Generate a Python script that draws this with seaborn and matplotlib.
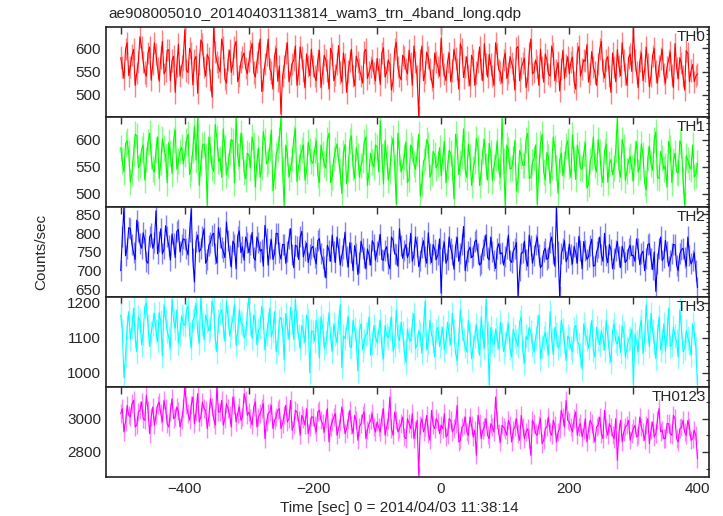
import numpy as np
import pandas as pd
import matplotlib
matplotlib.use("Agg")
import matplotlib.pyplot as plt
from matplotlib.ticker import MultipleLocator
import seaborn as sns

# light curve values:
# *_a lists sit at -500, -495, ..., 400 s; *_b lists sit halfway in between
t_start, t_stop, t_step = -500, 400, 5

th0_a = [
    580, 535, 612, 560, 598, 547, 625, 571, 540, 603, 566, 588, 529, 615, 552, 597, 574, 505, 609, 561,
    640, 548, 590, 575, 503, 618, 560, 587, 532, 645, 571, 549, 602, 525, 596, 566, 615, 540, 582, 557,
    572, 611, 538, 590, 507, 566, 620, 548, 583, 529, 458, 561, 612, 545, 575, 520, 603, 552, 588, 541,
    562, 530, 596, 548, 575, 512, 588, 543, 606, 527, 565, 550, 598, 519, 571, 540, 592, 535, 560, 547,
    578, 522, 601, 549, 566, 530, 613, 541, 585, 555, 596, 520, 570, 452, 605, 548, 580, 532, 590, 560,
    622, 545, 571, 528, 598, 556, 610, 537, 582, 519, 575, 548, 603, 530, 566, 587, 541, 612, 553, 525,
    590, 547, 568, 510, 604, 558, 579, 532, 620, 549, 561, 598, 527, 575, 540, 589, 552, 508, 596, 563,
    545, 581, 512, 604, 556, 572, 527, 593, 548, 566, 615, 536, 582, 505, 560, 597, 541, 575, 520, 588,
    644, 548, 572, 530, 603, 517, 584, 550, 562, 598, 525, 575, 543, 610, 535, 568, 510, 589, 552, 528,
    545,
]
th0_b = [
    560, 598, 541, 585, 520, 570, 602, 548, 590, 531, 612, 557, 580, 545, 596, 530, 583, 562, 540, 575,
    552, 600, 521, 583, 566, 610, 540, 578, 495, 592, 560, 620, 534, 575, 548, 603, 528, 570, 590, 545,
    595, 548, 570, 620, 533, 585, 556, 512, 600, 562, 540, 590, 528, 567, 605, 546, 580, 515, 562, 598,
    540, 575, 515, 585, 552, 600, 530, 566, 548, 590, 505, 572, 541, 583, 556, 525, 598, 548, 575, 530,
    555, 590, 538, 575, 510, 598, 560, 532, 580, 545, 568, 605, 540, 575, 530, 592, 555, 515, 571, 540,
    565, 530, 590, 552, 578, 512, 598, 560, 542, 585, 520, 570, 555, 610, 538, 565, 520, 588, 548, 575,
    535, 582, 555, 600, 530, 568, 515, 590, 545, 575, 520, 560, 588, 545, 605, 530, 570, 555, 535, 582,
    570, 528, 590, 540, 575, 608, 545, 560, 520, 598, 552, 575, 540, 590, 528, 562, 612, 545, 580, 550,
    575, 515, 590, 552, 565, 540, 600, 525, 578, 545, 560, 592, 515, 558, 580, 540, 595, 528, 565, 540,
]
th1_a = [
    585, 540, 598, 521, 575, 607, 552, 590, 563, 612, 546, 580, 528, 601, 569, 595, 537, 618, 560, 586,
    574, 610, 548, 625, 640, 556, 592, 478, 583, 541, 603, 565, 620, 535, 577, 598, 640, 550, 588, 527,
    571, 605, 512, 584, 549, 597, 560, 618, 533, 582, 640, 478, 575, 546, 601, 522, 568, 590, 541, 579,
    556, 598, 520, 573, 547, 612, 531, 580, 562, 500, 591, 545, 607, 528, 570, 552, 596, 515, 575, 549,
    587, 635, 518, 568, 542, 603, 480, 575, 551, 596, 527, 583, 545, 610, 519, 566, 590, 538, 572, 555,
    533, 597, 549, 575, 490, 588, 556, 620, 530, 568, 545, 602, 515, 579, 551, 593, 524, 566, 542, 640,
    478, 581, 547, 598, 525, 570, 553, 612, 530, 565, 480, 592, 540, 576, 519, 605, 548, 562, 533, 588,
    551, 609, 526, 573, 545, 594, 517, 568, 552, 600, 536, 579, 521, 563, 547, 640, 530, 587, 541, 569,
    523, 596, 549, 572, 507, 588, 543, 614, 528, 566, 551, 597, 520, 575, 538, 590, 478, 562, 545, 531,
    556,
]
th1_b = [
    560, 592, 575, 538, 610, 548, 582, 525, 595, 570, 540, 605, 558, 585, 520, 575, 600, 545, 578, 555,
    598, 535, 580, 562, 515, 590, 570, 605, 548, 628, 560, 530, 585, 552, 600, 520, 570, 612, 540, 575,
    548, 590, 560, 530, 615, 555, 585, 505, 572, 600, 545, 590, 530, 565, 620, 550, 580, 525, 595, 560,
    580, 535, 590, 555, 600, 520, 565, 592, 540, 575, 518, 598, 550, 585, 530, 562, 605, 540, 558, 590,
    540, 570, 598, 525, 585, 550, 612, 540, 568, 520, 590, 555, 575, 495, 560, 600, 530, 578, 548, 585,
    565, 520, 580, 548, 610, 535, 570, 545, 592, 515, 560, 585, 540, 600, 525, 575, 550, 598, 530, 560,
    590, 545, 565, 505, 580, 552, 600, 528, 558, 590, 545, 610, 525, 568, 550, 585, 500, 575, 555, 598,
    530, 565, 590, 548, 575, 510, 560, 605, 540, 578, 520, 592, 555, 535, 582, 545, 600, 525, 562, 548,
    575, 540, 592, 520, 565, 555, 600, 530, 578, 545, 512, 585, 560, 540, 598, 525, 570, 550, 590, 535,
]
th2_a = [
    700, 869, 760, 812, 748, 835, 772, 801, 725, 790, 760, 860, 778, 745, 820, 766, 798, 735, 810, 770,
    783, 742, 865, 670, 795, 758, 812, 730, 776, 800, 720, 788, 752, 830, 741, 779, 705, 806, 764, 790,
    748, 802, 728, 776, 757, 821, 715, 783, 745, 799, 731, 770, 752, 812, 708, 765, 790, 737, 774, 742,
    765, 718, 786, 732, 681, 754, 795, 722, 760, 741, 803, 710, 748, 767, 690, 779, 736, 758, 715, 771,
    752, 797, 728, 764, 705, 781, 744, 812, 733, 770, 749, 725, 790, 711, 762, 738, 801, 722, 757, 743,
    640, 776, 731, 760, 704, 789, 745, 818, 727, 763, 740, 782, 715, 757, 796, 729, 751, 706, 772, 748,
    738, 795, 722, 760, 632, 747, 779, 712, 766, 741, 790, 708, 752, 730, 775, 745, 869, 632, 760, 724,
    771, 718, 748, 792, 705, 755, 737, 784, 714, 762, 743, 800, 721, 757, 732, 778, 708, 750, 729, 768,
    741, 785, 716, 752, 733, 772, 703, 645, 760, 727, 781, 712, 745, 769, 700, 756, 735, 790, 718, 748,
    655,
]
th2_b = [
    790, 740, 815, 770, 730, 805, 760, 782, 720, 798, 775, 745, 812, 758, 790, 728, 772, 805, 750, 785,
    760, 805, 732, 778, 750, 790, 720, 768, 795, 745, 815, 762, 735, 780, 710, 770, 792, 748, 728, 775,
    770, 735, 790, 752, 712, 785, 760, 730, 800, 748, 770, 720, 785, 742, 768, 730, 805, 755, 722, 760,
    735, 780, 745, 710, 768, 725, 752, 790, 715, 760, 738, 775, 700, 745, 722, 760, 705, 742, 780, 728,
    770, 730, 755, 720, 790, 745, 712, 768, 755, 735, 800, 742, 765, 728, 780, 720, 745, 770, 730, 785,
    755, 720, 790, 742, 765, 725, 770, 700, 752, 735, 778, 745, 720, 768, 735, 790, 728, 760, 745, 715,
    760, 728, 752, 775, 700, 748, 730, 795, 720, 770, 742, 715, 760, 735, 790, 712, 752, 745, 780, 735,
    742, 765, 720, 755, 778, 730, 768, 712, 750, 790, 725, 740, 770, 705, 755, 738, 765, 722, 758, 740,
    725, 758, 745, 700, 770, 732, 750, 718, 790, 735, 752, 728, 770, 715, 745, 760, 712, 740, 728, 700,
]
th3_a = [
    1165, 985, 1130, 1095, 1185, 1060, 1150, 1110, 1200, 1075, 1140, 1120, 1172, 1048, 1155, 1100, 1210, 1128, 1085, 1163,
    1135, 1192, 1070, 1160, 1117, 1217, 1095, 1148, 1125, 1185, 1060, 1170, 1132, 1205, 1105, 1156, 1078, 1180, 1140, 1112,
    1217, 1098, 1150, 1123, 1190, 1065, 1140, 1102, 1175, 1085, 1158, 1037, 1130, 1188, 1095, 1145, 1070, 1120, 1165, 1000,
    1118, 1150, 1042, 1135, 1087, 1172, 1060, 1110, 1145, 1015, 1098, 1160, 1072, 1125, 1005, 1140, 1090, 1112, 1050, 1135,
    1085, 1150, 1040, 1108, 1125, 1062, 1180, 1092, 1115, 1030, 1098, 1140, 1070, 1120, 1055, 1205, 1088, 1110, 1045, 1130,
    1100, 1065, 1145, 1080, 1120, 1035, 1180, 1095, 1060, 1112, 1075, 1138, 1050, 1102, 1210, 965, 1090, 1125, 1068, 1110,
    1082, 1140, 1045, 1105, 1075, 1160, 1028, 1095, 1118, 1060, 1130, 1040, 1100, 1085, 1175, 1052, 1110, 1078, 1122, 1035,
    1098, 1060, 1135, 1080, 1010, 1112, 1070, 1150, 1045, 1095, 1120, 1065, 1105, 1030, 1140, 1082, 1058, 1115, 1072, 1100,
    965, 1088, 1130, 1055, 1195, 1075, 1120, 1040, 1160, 1090, 1062, 1185, 1080, 1105, 1045, 1130, 1070, 1100, 1050, 1115,
    965,
]
th3_b = [
    1120, 1050, 1175, 1130, 1105, 1160, 1080, 1190, 1135, 1115, 1170, 1090, 1145, 1195, 1120, 1070, 1150, 1180, 1110, 1140,
    1175, 1110, 1150, 1200, 1085, 1140, 1165, 1120, 1205, 1100, 1148, 1180, 1090, 1160, 1130, 1195, 1115, 1145, 1100, 1170,
    1140, 1165, 1080, 1130, 1155, 1110, 1185, 1120, 1060, 1150, 1125, 1170, 1095, 1145, 1210, 1105, 1135, 1085, 1150, 1120,
    1090, 1125, 1160, 1070, 1115, 1100, 1140, 1085, 1195, 1105, 1130, 1075, 1150, 1095, 1120, 1065, 1110, 1160, 1085, 1105,
    1120, 1070, 1135, 1100, 1160, 1080, 1105, 1145, 1060, 1125, 1090, 1170, 1080, 1110, 1135, 1065, 1150, 1090, 1120, 1075,
    1130, 1090, 1110, 1170, 1055, 1100, 1125, 1075, 1150, 1040, 1105, 1090, 1160, 1070, 1115, 1130, 1080, 1100, 1145, 1060,
    1115, 1070, 1125, 1090, 1145, 1060, 1105, 1130, 1080, 1100, 1165, 1075, 1115, 1050, 1095, 1130, 1070, 1150, 1090, 1105,
    1070, 1125, 1090, 1050, 1140, 1095, 1110, 1065, 1130, 1080, 1100, 1150, 1060, 1120, 1090, 1105, 1135, 1045, 1095, 1125,
    1110, 1060, 1150, 1095, 1120, 1170, 1085, 1105, 1065, 1140, 1110, 1075, 1130, 1090, 1180, 1060, 1120, 1085, 1140, 1070,
]
th0123_a = [
    3030, 2920, 3080, 3010, 3110, 2960, 3050, 3000, 3140, 2910, 3070, 3020, 3100, 2980, 3060, 2950, 3120, 3010, 3045, 2990,
    3190, 3030, 3080, 2970, 3150, 3010, 3060, 2940, 3120, 3000, 3190, 3040, 2960, 3090, 3020, 3130, 2980, 3070, 3010, 3110,
    3040, 2960, 3100, 3010, 3060, 2880, 3030, 3080, 2990, 3050, 2940, 3020, 2980, 3110, 2960, 3040, 2900, 3000, 3060, 2950,
    3010, 2920, 3050, 2970, 3000, 2860, 2980, 3030, 2940, 3070, 2910, 2990, 2960, 3020, 2870, 2970, 3040, 2930, 2990, 2950,
    2980, 2920, 3060, 2950, 3130, 2900, 2990, 2940, 3010, 2880, 2970, 3030, 2930, 2660, 3000, 2950, 2910, 3050, 2940, 2980,
    2960, 3030, 2900, 2990, 2940, 3080, 2870, 2960, 2920, 3010, 2890, 2780, 2970, 2930, 3000, 2880, 2950, 3130, 2910, 2960,
    2930, 2990, 2860, 2950, 2910, 3020, 2880, 2940, 2780, 2970, 2900, 3000, 2870, 2950, 2920, 2990, 2860, 2940, 3010, 3110,
    2980, 2920, 3040, 2950, 2890, 3000, 2930, 2970, 2860, 2960, 2910, 3050, 2900, 2950, 2880, 2750, 2990, 2920, 2960, 2870,
    2940, 2890, 3010, 2920, 2960, 2850, 2980, 2910, 3060, 2930, 2880, 2970, 2900, 3000, 2860, 2950, 2920, 2990, 2870, 2930,
    2760,
]
th0123_b = [
    3060, 2980, 3020, 3090, 2950, 3040, 3100, 2990, 3050, 3010, 2960, 3080, 3030, 3110, 2970, 3040, 3000, 3070, 2950, 3060,
    3080, 2990, 3130, 3040, 2980, 3100, 3050, 3010, 3070, 2960, 3040, 3110, 3000, 3060, 2950, 3080, 3030, 2990, 3150, 3020,
    3000, 3070, 2950, 3030, 3090, 2980, 3040, 2940, 3010, 3060, 2970, 3080, 3000, 2930, 3050, 2990, 3020, 2960, 2910, 3010,
    2960, 3040, 2990, 2920, 3060, 2950, 3010, 2900, 2980, 3000, 2940, 3050, 2910, 2990, 2950, 3020, 2880, 2970, 3030, 2920,
    2950, 3010, 2900, 2990, 2940, 3040, 2920, 2970, 2890, 3000, 2940, 2880, 2990, 2960, 2920, 3020, 2870, 2960, 3000, 2910,
    2940, 2890, 3000, 2920, 2970, 2860, 2950, 3010, 2900, 2960, 2930, 3020, 2880, 2950, 2900, 2970, 2920, 2990, 2860, 2950,
    2900, 2960, 2930, 3000, 2870, 2950, 2920, 2880, 2990, 2910, 2960, 2850, 2940, 3010, 2900, 2960, 2920, 3050, 2950, 2990,
    2950, 3000, 2900, 2970, 2930, 2860, 2990, 2910, 2950, 3010, 2880, 2940, 2970, 2900, 3000, 2920, 2860, 2950, 2990, 2910,
    2960, 2900, 2950, 2870, 3000, 2930, 2890, 2990, 2920, 2880, 2970, 2910, 3020, 2880, 2940, 2990, 2900, 2950, 2880, 2900,
]

band_names = ["TH0", "TH1", "TH2", "TH3", "TH0123"]
band_errors = [24, 24, 28, 34, 55]
band_colors = ["#ff0000", "#00ff00", "#0000ff", "#00ffff", "#ff00ff"]
band_err_colors = ["#ff8080", "#80ff80", "#8080ff", "#80ffff", "#ff80ff"]
band_ylims = [(452, 646), (475, 642), (630, 870), (959, 1217), (2650, 3190)]
band_major = [50, 50, 50, 100, 200]
band_minor = [10, 10, 10, 20, 100]

times_a = np.arange(t_start, t_stop + 1, t_step)
times_b = times_a[:-1] + t_step / 2
series = [(th0_a, th0_b), (th1_a, th1_b), (th2_a, th2_b), (th3_a, th3_b), (th0123_a, th0123_b)]

frames = []
for (sa, sb), n in zip(series, band_names):
    assert len(sa) == len(times_a), (n, len(sa))
    assert len(sb) == len(times_b), (n, len(sb))
    frames.append(pd.DataFrame({"time": times_a, "rate": sa, "band": n}))
    frames.append(pd.DataFrame({"time": times_b, "rate": sb, "band": n}))
df = pd.concat(frames, ignore_index=True).sort_values(["band", "time"])

sns.set_style("white")
plt.rcParams["font.family"] = ["Liberation Sans", "DejaVu Sans"]
plt.rcParams["font.size"] = 11

fig, axes = plt.subplots(5, 1, figsize=(7.23, 5.16), dpi=100, sharex=True)
fig.subplots_adjust(left=0.1466, right=0.9806, top=0.9477, bottom=0.0756, hspace=0)

for i, ax in enumerate(axes):
    name = band_names[i]
    d = df[df["band"] == name]
    err = band_errors[i]
    # error bars (lighter shade) under the curve
    ax.vlines(d["time"], d["rate"] - err, d["rate"] + err,
              colors=band_err_colors[i], linewidth=1.0, zorder=1)
    sns.lineplot(data=d, x="time", y="rate", ax=ax, color=band_colors[i],
                 linewidth=0.8, estimator=None, sort=True, zorder=2)
    ax.set_ylim(*band_ylims[i])
    ax.set_xlim(-523, 418)
    ax.set_ylabel("")
    ax.set_xlabel("")
    ax.yaxis.set_major_locator(MultipleLocator(band_major[i]))
    ax.yaxis.set_minor_locator(MultipleLocator(band_minor[i]))
    ax.xaxis.set_major_locator(MultipleLocator(200))
    ax.xaxis.set_minor_locator(MultipleLocator(100))
    ax.tick_params(axis="both", which="both", direction="in", top=True, right=True,
                   color="#333333", labelsize=11)
    ax.tick_params(axis="both", which="major", length=5, width=1)
    ax.tick_params(axis="y", which="minor", length=2.5, width=0.8)
    ax.tick_params(axis="x", which="minor", length=5, width=1)
    for sp in ax.spines.values():
        sp.set_color("#222222")
        sp.set_linewidth(1.2)
    ax.text(0.995, 0.97, name, transform=ax.transAxes, ha="right", va="top", fontsize=11)

axes[-1].set_xticks([-400, -200, 0, 200, 400])
axes[-1].set_xticklabels(["\u2212400", "\u2212200", "0", "200", "400"])

fig.text(108 / 723, 1 - 14 / 516, "ae908005010_20140403113814_wam3_trn_4band_long.qdp",
         ha="left", va="center", fontsize=11)
fig.text(0.057, 0.512, "Counts/sec", rotation=90, ha="center", va="center", fontsize=11)
fig.text(0.552, 0.016, "Time [sec] 0 = 2014/04/03 11:38:14", ha="center", va="center", fontsize=11)

fig.savefig("out.png", dpi=100)
